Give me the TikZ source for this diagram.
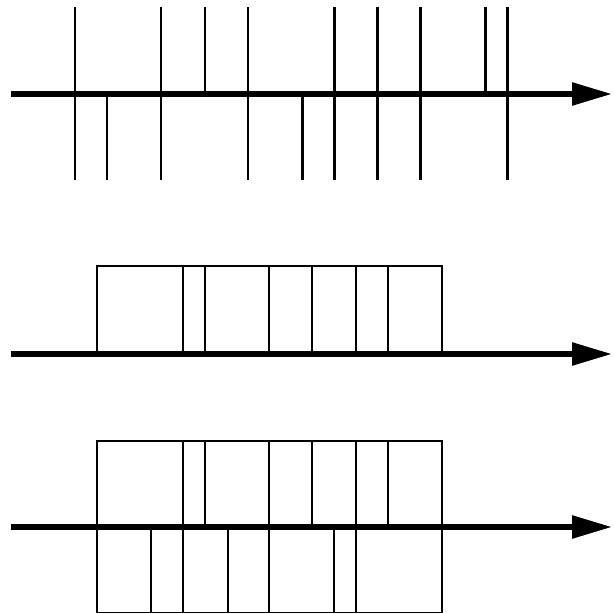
\documentclass[tikz,border=0pt]{standalone}
\usepackage{tikz}
\usetikzlibrary{arrows.meta}

\begin{document}
\begin{tikzpicture}[x=0.02cm,y=-0.02cm,
  axis/.style={line width=3.2pt,-{Triangle[length=8mm,width=4.4mm]}},
  spike/.style={line width=1.7pt},
  cell/.style={line width=1pt},
  split/.style={line width=1.6pt}]
\useasboundingbox (0,0) rectangle (613,614);
% spikes of both trains
\draw[spike] (75,7) -- (75,180);
\draw[spike] (107,94) -- (107,180);
\draw[spike] (161,7) -- (161,180);
\draw[spike] (205,7) -- (205,94);
\draw[spike] (248,7) -- (248,180);
\draw[spike] (302,94) -- (302,180);
\draw[spike] (334,7) -- (334,180);
\draw[spike] (377,7) -- (377,180);
\draw[spike] (420,7) -- (420,180);
\draw[spike] (485,7) -- (485,94);
\draw[spike] (507,7) -- (507,180);
\draw[axis] (11,94) -- (612,94); % time axis
% upper train as cells
\draw[cell] (97,266) rectangle (442,354);
\draw[split] (183,266) -- (183,354);
\draw[split] (205,266) -- (205,354);
\draw[split] (269,266) -- (269,354);
\draw[split] (312,266) -- (312,354);
\draw[split] (356,266) -- (356,354);
\draw[split] (388,266) -- (388,354);
\draw[axis] (11,354) -- (612,354);
% both trains as cells
\draw[cell] (97,441) rectangle (442,612.5);
\draw[split] (183,441) -- (183,527);
\draw[split] (205,441) -- (205,527);
\draw[split] (269,441) -- (269,527);
\draw[split] (312,441) -- (312,527);
\draw[split] (356,441) -- (356,527);
\draw[split] (388,441) -- (388,527);
\draw[split] (151,527) -- (151,612.5);
\draw[split] (183,527) -- (183,612.5);
\draw[split] (228,527) -- (228,612.5);
\draw[split] (269,527) -- (269,612.5);
\draw[split] (334,527) -- (334,612.5);
\draw[split] (356,527) -- (356,612.5);
\draw[axis] (11,527) -- (612,527);
\end{tikzpicture}
\end{document}
